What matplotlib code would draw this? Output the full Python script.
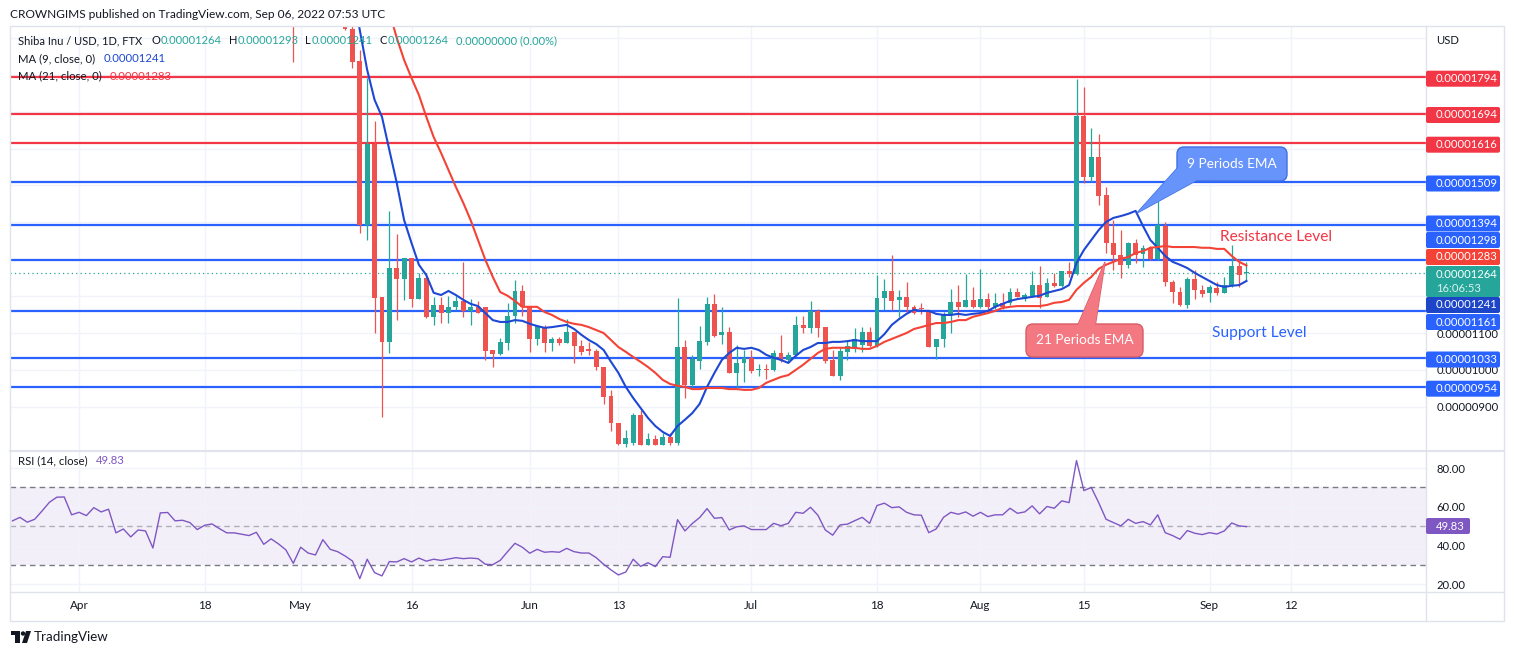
import numpy as np
import pandas as pd
import matplotlib
matplotlib.use("Agg")
import matplotlib.pyplot as plt
from matplotlib.patches import FancyBboxPatch, Polygon, Rectangle, Circle
from matplotlib.ticker import FuncFormatter

plt.rcParams["font.family"] = ["Lato", "DejaVu Sans"]
nan = np.nan

# ---- data: prices in 1e-8 USD (1264 -> 0.00001264), daily bars ----
candle_start = "2022-04-30"   # days above the visible range are nan
opens = [2050, nan, nan, nan, nan, nan, nan, 1960, 1924, 1837,
         1393, 1612, 1198, 1076, 1276, 1247, 1303, 1192, 1249, 1144,
         1176, 1154, 1171, 1187, 1160, 1171, 1171, 1054, 1043, 1073,
         1146, 1214, 1171, 1084, 1116, 1073, 1084, 1073, 1103, 1065,
         1057, 1051, 1008, 929, 856, 799, 802, 878, 797, 813,
         797, 818, 802, 1062, 959, 1024, 1076, 1179, 1095, 1103,
         992, 1019, 1033, 1000, 1003, 1000, 1046, 1027, 1041, 1122,
         1114, 1160, 1116, 1027, 984, 1049, 1057, 1068, 1103, 1065,
         1195, 1214, 1190, 1198, 1171, 1168, 1157, 1062, 1084, 1152,
         1184, 1171, 1190, 1171, 1192, 1171, 1182, 1182, 1211, 1192,
         1201, 1230, 1198, 1236, 1228, 1268, 1260, 1688, 1523, 1577,
         1474, 1344, 1312, 1285, 1344, 1314, 1331, 1301, 1390, 1238,
         1211, 1176, 1247, 1217, 1209, 1222, 1209, 1230, 1282, 1264]
highs = [2070, nan, nan, nan, nan, nan, nan, 1975, 1950, 1867,
         1791, 1675, 1198, 1431, 1369, 1303, 1303, 1263, 1263, 1198,
         1198, 1201, 1201, 1293, 1192, 1187, 1171, 1054, 1087, 1182,
         1244, 1230, 1171, 1119, 1122, 1089, 1089, 1138, 1103, 1081,
         1076, 1057, 1008, 946, 856, 837, 883, 892, 829, 824,
         829, 829, 1195, 1081, 1041, 1119, 1198, 1206, 1171, 1116,
         1068, 1054, 1054, 1016, 1016, 1054, 1095, 1049, 1146, 1146,
         1187, 1165, 1116, 1054, 1062, 1081, 1114, 1116, 1116, 1257,
         1247, 1312, 1217, 1238, 1176, 1182, 1157, 1084, 1157, 1219,
         1230, 1260, 1225, 1274, 1209, 1209, 1209, 1222, 1222, 1209,
         1268, 1282, 1249, 1263, 1268, 1293, 1789, 1767, 1656, 1640,
         1496, 1406, 1379, 1347, 1355, 1339, 1336, 1482, 1401, 1244,
         1225, 1252, 1271, 1230, 1230, 1238, 1252, 1339, 1301, 1293]
lows = [1835, nan, nan, nan, nan, nan, nan, 1920, 1818, 1371,
        1352, 1100, 873, 1046, 1135, 1190, 1171, 1192, 1141, 1122,
        1127, 1127, 1163, 1144, 1122, 1154, 1027, 1008, 1041, 1054,
        1127, 1146, 1049, 1068, 1049, 1051, 1068, 1073, 1019, 1041,
        1041, 1000, 908, 835, 797, 791, 797, 797, 797, 797,
        797, 797, 797, 924, 954, 1003, 1068, 1089, 1070, 992,
        951, 967, 992, 984, 976, 997, 1022, 1019, 1038, 1100,
        1100, 1089, 1019, 984, 973, 1027, 1049, 1049, 1062, 1062,
        1163, 1163, 1144, 1157, 1152, 1152, 1062, 1030, 1062, 1100,
        1144, 1171, 1168, 1168, 1165, 1165, 1165, 1176, 1198, 1187,
        1198, 1168, 1198, 1225, 1225, 1252, 1257, 1507, 1510, 1447,
        1317, 1270, 1249, 1276, 1290, 1279, 1298, 1298, 1228, 1182,
        1173, 1168, 1192, 1198, 1184, 1203, 1209, 1225, 1225, 1241]
closes = [1990, nan, nan, nan, nan, nan, nan, 1924, 1835, 1393,
          1612, 1195, 1076, 1276, 1247, 1303, 1192, 1249, 1144, 1176,
          1154, 1171, 1187, 1160, 1171, 1154, 1051, 1043, 1076, 1146,
          1214, 1171, 1084, 1119, 1073, 1084, 1073, 1103, 1065, 1049,
          1051, 1008, 927, 856, 799, 816, 878, 797, 813, 797,
          818, 802, 1062, 959, 1030, 1078, 1179, 1092, 1103, 992,
          1019, 1033, 997, 1003, 1000, 1046, 1027, 1041, 1122, 1114,
          1160, 1114, 1024, 984, 1051, 1065, 1084, 1103, 1065, 1195,
          1214, 1187, 1198, 1171, 1154, 1165, 1062, 1084, 1152, 1184,
          1171, 1190, 1171, 1192, 1171, 1182, 1171, 1211, 1198, 1203,
          1230, 1195, 1236, 1228, 1268, 1260, 1688, 1523, 1577, 1472,
          1344, 1312, 1285, 1344, 1312, 1331, 1301, 1393, 1238, 1211,
          1176, 1247, 1217, 1206, 1225, 1209, 1230, 1282, 1257, 1264]

ma9_start = "2022-05-08"
ma9 = [2030, 1921, 1813, 1732, 1686, 1596, 1507, 1406, 1344, 1285,
       1257, 1209, 1203, 1214, 1203, 1190, 1179, 1173, 1154, 1135,
       1130, 1130, 1135, 1133, 1125, 1119, 1114, 1116, 1119, 1122,
       1111, 1095, 1081, 1070, 1054, 1022, 992, 954, 924, 897,
       870, 848, 832, 821, 848, 865, 883, 908, 954, 992,
       1027, 1046, 1060, 1057, 1060, 1054, 1041, 1033, 1027, 1019,
       1038, 1054, 1062, 1073, 1073, 1076, 1076, 1078, 1081, 1078,
       1078, 1078, 1097, 1122, 1138, 1152, 1163, 1160, 1160, 1152,
       1149, 1149, 1152, 1149, 1152, 1154, 1160, 1171, 1179, 1187,
       1192, 1195, 1198, 1201, 1209, 1214, 1219, 1230, 1290, 1325,
       1352, 1379, 1401, 1412, 1417, 1423, 1431, 1390, 1352, 1331,
       1309, 1293, 1285, 1276, 1263, 1252, 1241, 1230, 1225, 1228,
       1230, 1241]

ma21_start = "2022-05-12"
ma21 = [2030, 1970, 1900, 1840, 1791, 1745, 1686, 1631, 1588, 1542,
        1496, 1453, 1406, 1352, 1298, 1252, 1211, 1201, 1187, 1171,
        1171, 1171, 1157, 1149, 1138, 1130, 1125, 1122, 1116, 1108,
        1100, 1081, 1062, 1049, 1035, 1022, 1008, 992, 973, 962,
        957, 954, 948, 948, 951, 951, 951, 948, 948, 946,
        946, 951, 965, 973, 981, 986, 1000, 1014, 1030, 1046,
        1057, 1060, 1060, 1060, 1060, 1057, 1057, 1065, 1076, 1084,
        1092, 1100, 1111, 1116, 1122, 1127, 1127, 1130, 1135, 1135,
        1144, 1149, 1154, 1160, 1168, 1171, 1173, 1173, 1173, 1173,
        1176, 1182, 1184, 1190, 1217, 1236, 1252, 1274, 1285, 1293,
        1301, 1306, 1317, 1322, 1331, 1333, 1336, 1333, 1333, 1333,
        1333, 1331, 1331, 1328, 1328, 1309, 1293, 1283]

rsi_start = "2022-03-23"
rsi = [52.8, 54.6, 52.1, 53.6, 57.9, 62.4, 65.0, 65.1, 55.9, 57.2,
       55.5, 59.6, 57.4, 58.8, 46.6, 48.6, 44.5, 48.1, 47.6, 38.8,
       56.9, 57.1, 52.8, 53.1, 51.9, 48.3, 50.5, 51.2, 48.8, 46.6,
       46.6, 45.9, 45.2, 46.9, 40.7, 43.5, 40.9, 37.8, 30.9, 39.2,
       36.2, 35.2, 43.1, 38.1, 36.9, 34.7, 32.1, 23.0, 33.0, 26.1,
       24.4, 31.8, 31.6, 33.3, 31.6, 33.6, 32.0, 33.0, 32.4, 33.1,
       33.8, 33.3, 33.6, 33.3, 30.4, 30.2, 32.4, 36.9, 41.2, 39.2,
       36.1, 38.1, 36.6, 36.9, 36.6, 38.6, 36.9, 36.2, 36.2, 33.8,
       30.4, 27.5, 24.9, 26.4, 33.0, 29.3, 31.2, 29.2, 34.3, 34.0,
       53.4, 47.6, 51.4, 54.5, 59.1, 54.1, 54.5, 48.1, 49.7, 50.2,
       48.3, 48.3, 48.3, 51.5, 50.3, 51.5, 57.2, 56.7, 59.8, 55.7,
       48.1, 45.4, 50.7, 51.1, 52.9, 54.6, 51.5, 60.7, 61.9, 59.6,
       60.0, 57.2, 55.9, 55.7, 46.7, 48.6, 54.6, 57.2, 56.2, 57.4,
       55.2, 57.2, 55.0, 55.9, 55.9, 59.3, 56.7, 57.4, 60.5, 56.4,
       60.2, 59.3, 63.1, 62.2, 83.9, 68.4, 70.0, 62.2, 53.6, 51.9,
       50.2, 53.6, 51.5, 52.4, 50.7, 55.9, 46.7, 45.2, 43.3, 47.8,
       46.4, 45.7, 46.7, 46.0, 47.6, 51.7, 50.2, 49.83]

red_levels = [1794, 1694, 1616]
blue_levels = [1509, 1394, 1298, 1161, 1033, 954]
last_price = 1264
axis_labels = [900, 1000, 1100]   # the others sit under the coloured tags

tick_dates = ["2022-04-01", "2022-04-18", "2022-05-01", "2022-05-16", "2022-06-01", "2022-06-13",
              "2022-07-01", "2022-07-18", "2022-08-01", "2022-08-15", "2022-09-01", "2022-09-12"]
tick_labels = ["Apr", "18", "May", "16", "Jun", "13", "Jul", "18", "Aug", "15", "Sep", "12"]

# ---- colours ----
GREEN, RED = "#26a69a", "#ef5350"
LRED, LBLUE = "#f23645", "#2962ff"
MA9_C, MA21_C = "#1e48d4", "#f44336"
TXT, GRID, BORDER, PURPLE = "#131722", "#f0f3fa", "#e0e3eb", "#7e57c2"
FS_AX = 8.1

base = pd.Timestamp("2022-04-01")
def day_x(start, n):
    return np.asarray((pd.date_range(start, periods=n) - base).days, dtype=float)

W, H = 1514, 655
fig = plt.figure(figsize=(W / 100, H / 100), dpi=100)
fig.patch.set_facecolor("white")

def px_axes(x0, y0, x1, y1, **kw):
    return fig.add_axes([x0 / W, 1 - y1 / H, (x1 - x0) / W, (y1 - y0) / H], **kw)

ax = px_axes(10, 26, 1426, 450)
ax2 = px_axes(10, 452, 1426, 592)
XL = (-9.34, 182.3)

# ---- main pane ----
o, hi, lo, c = (np.array(v, float) for v in (opens, highs, lows, closes))
xc = day_x(candle_start, len(o))
ok = ~np.isnan(o)
cols = np.where(c >= o, GREEN, RED)
ax.vlines(xc[ok], lo[ok], hi[ok], colors=cols[ok], lw=0.9, zorder=3)
body = np.maximum(np.abs(c - o), 2.6)
ax.bar(xc[ok], body[ok], bottom=np.minimum(o, c)[ok], width=0.66, color=cols[ok], lw=0, zorder=4)

for v in red_levels:
    ax.axhline(v, color=LRED, lw=1.6, zorder=2)
for v in blue_levels:
    ax.axhline(v, color=LBLUE, lw=1.6, zorder=2)
ax.axhline(last_price, color=GREEN, lw=0.9, ls=(0, (1, 2.5)), zorder=2)

ax.plot(day_x(ma9_start, len(ma9)), ma9, color=MA9_C, lw=1.5, zorder=5)
ax.plot(day_x(ma21_start, len(ma21)), ma21, color=MA21_C, lw=1.5, zorder=5)

tx = [(pd.Timestamp(d) - base).days for d in tick_dates]
ax.set_xlim(*XL)
ax.set_ylim(783, 1932)
ax.set_xticks(tx)
ax.set_xticklabels([])
ax.set_yticks(range(900, 1901, 100))
ax.yaxis.tick_right()
ax.yaxis.set_major_formatter(FuncFormatter(
    lambda v, p: "0.%08d" % int(round(v)) if int(round(v)) in axis_labels else ""))
ax.tick_params(axis="y", length=0, pad=7.5, labelsize=FS_AX, labelcolor=TXT)
ax.tick_params(axis="x", length=0)
ax.grid(color=GRID, lw=1, zorder=0)

# ---- RSI pane ----
ax2.axhspan(30, 70, color=PURPLE, alpha=0.09, lw=0, zorder=1)
ax2.axhline(70, color="#787b86", lw=1, ls=(0, (4, 3)), zorder=2)
ax2.axhline(30, color="#787b86", lw=1, ls=(0, (4, 3)), zorder=2)
ax2.axhline(50, color="#787b86", lw=1, ls=(0, (4, 3)), alpha=0.55, zorder=2)
ax2.plot(day_x(rsi_start, len(rsi)), rsi, color=PURPLE, lw=1.0, zorder=3)
ax2.set_xlim(*XL)
ax2.set_ylim(16.1, 88.3)
ax2.set_yticks([20, 40, 60, 80])
ax2.yaxis.tick_right()
ax2.yaxis.set_major_formatter(FuncFormatter(lambda v, p: "%.2f" % v))
ax2.tick_params(axis="y", length=0, pad=7.5, labelsize=FS_AX, labelcolor=TXT)
ax2.set_xticks(tx)
ax2.set_xticklabels(tick_labels)
ax2.tick_params(axis="x", length=0, pad=6, labelsize=8.4, labelcolor=TXT)
ax2.grid(color=GRID, lw=1, zorder=0)

for a in (ax, ax2):
    for s in a.spines.values():
        s.set_visible(False)

# ---- overlay in pixel coordinates ----
ov = px_axes(0, 0, W, H, zorder=10)
ov.set_xlim(0, W)
ov.set_ylim(H, 0)
ov.axis("off")
rend = fig.canvas.get_renderer()

def runs(x, y, parts, size):
    for txt, col, gap in parts:
        t = ov.text(x, y, txt, color=col, fontsize=size, ha="left", va="center")
        x += t.get_window_extent(renderer=rend).width + gap

# frame
ov.add_patch(Rectangle((9.5, 25.5), 1494, 595, fill=False, ec=BORDER, lw=1))
ov.plot([1426, 1426], [25.5, 620.5], color=BORDER, lw=1)
ov.plot([9.5, 1503.5], [451, 451], color=BORDER, lw=1.5)
ov.plot([9.5, 1503.5], [592, 592], color=BORDER, lw=1)

ov.text(10, 14, "CROWNGIMS published on TradingView.com, Sep 06, 2022 07:53 UTC",
        color=TXT, fontsize=8.6, ha="left", va="center")
runs(18, 41, [("Shiba Inu / USD, 1D, FTX", TXT, 9), ("O", TXT, 0.5), ("0.00001264", GREEN, 7),
              ("H", TXT, 0.5), ("0.00001293", GREEN, 7), ("L", TXT, 0.5), ("0.00001241", GREEN, 7),
              ("C", TXT, 0.5), ("0.00001264", GREEN, 8), ("0.00000000 (0.00%)", GREEN, 0)], 8.0)
runs(18, 59, [("MA (9, close, 0)", TXT, 8), ("0.00001241", MA9_C, 0)], 8.2)
runs(18, 76, [("MA (21, close, 0)", TXT, 8), ("0.00001283", LRED, 0)], 8.2)
runs(18, 461, [("RSI (14, close)", TXT, 8), ("49.83", PURPLE, 0)], 8.2)
ov.text(1436, 41, "USD", color=TXT, fontsize=FS_AX, ha="left", va="center")

# price tags on the axis (stacked like TradingView)
def price_box(yc, txt, col, h=16, w=74, sub=None):
    ov.add_patch(FancyBboxPatch((1426, yc - h / 2), w, h, boxstyle="round,pad=0,rounding_size=2",
                                fc=col, ec="none", zorder=3))
    if sub is None:
        ov.text(1436, yc, txt, color="white", fontsize=FS_AX, ha="left", va="center", zorder=4)
    else:
        ov.text(1436, yc - 7, txt, color="white", fontsize=FS_AX, ha="left", va="center", zorder=4)
        ov.text(1436, yc + 7, sub, color="#d8f1ee", fontsize=FS_AX, ha="left", va="center", zorder=4)

price_box(78.7, "0.00001794", LRED)
price_box(115, "0.00001694", LRED)
price_box(144.7, "0.00001616", LRED)
price_box(183.5, "0.00001509", LBLUE)
price_box(223.5, "0.00001394", LBLUE)
price_box(240, "0.00001298", LBLUE)
price_box(257, "0.00001283", MA21_C)
price_box(281.5, "0.00001264", GREEN, h=31, sub="16:06:53")
price_box(305, "0.00001241", "#1c45c8")
price_box(322, "0.00001161", LBLUE)
price_box(359.5, "0.00001033", LBLUE)
price_box(388.7, "0.00000954", LBLUE)
price_box(526, "49.83", PURPLE, w=44)

# callouts
def callout(box, tip, base_pts, text, fc, ec):
    x0, y0, x1, y1 = box
    tri = [tip, base_pts[0], base_pts[1]]
    ov.add_patch(Polygon(tri, closed=True, fc=fc, ec=ec, lw=1, zorder=5))
    ov.add_patch(FancyBboxPatch((x0, y0), x1 - x0, y1 - y0, boxstyle="round,pad=0,rounding_size=7",
                                fc=fc, ec=ec, lw=1, zorder=6))
    ov.add_patch(Polygon(tri, closed=True, fc=fc, ec="none", lw=0, zorder=7))
    ov.text((x0 + x1) / 2, (y0 + y1) / 2, text, color="white", fontsize=9.8,
            ha="center", va="center", zorder=8)

callout((1177, 147, 1287, 181), (1137, 213), [(1182, 163), (1199, 179)],
        "9 Periods EMA", "#6794fa", "#3f6fe6")
callout((1026, 324, 1143, 357), (1105, 262), [(1077, 327), (1095, 327)],
        "21 Periods EMA", "#f47882", "#d65c66")

ov.text(1220, 237, "Resistance Level", color=LRED, fontsize=11.2, ha="left", va="center")
ov.text(1212, 333, "Support Level", color=LBLUE, fontsize=11.2, ha="left", va="center")

# TradingView logo
ov.add_patch(Rectangle((11, 631), 9, 4, fc=TXT, ec="none"))
ov.add_patch(Rectangle((15, 631), 4.5, 12, fc=TXT, ec="none"))
ov.add_patch(Circle((23, 633.5), 2.2, fc=TXT, ec="none"))
ov.add_patch(Polygon([(26, 631), (31, 631), (27, 643), (22, 643)], closed=True, fc=TXT, ec="none"))
ov.text(34, 637, "TradingView", color=TXT, fontsize=9.6, ha="left", va="center")

fig.savefig("out.png", dpi=100, facecolor="white")
